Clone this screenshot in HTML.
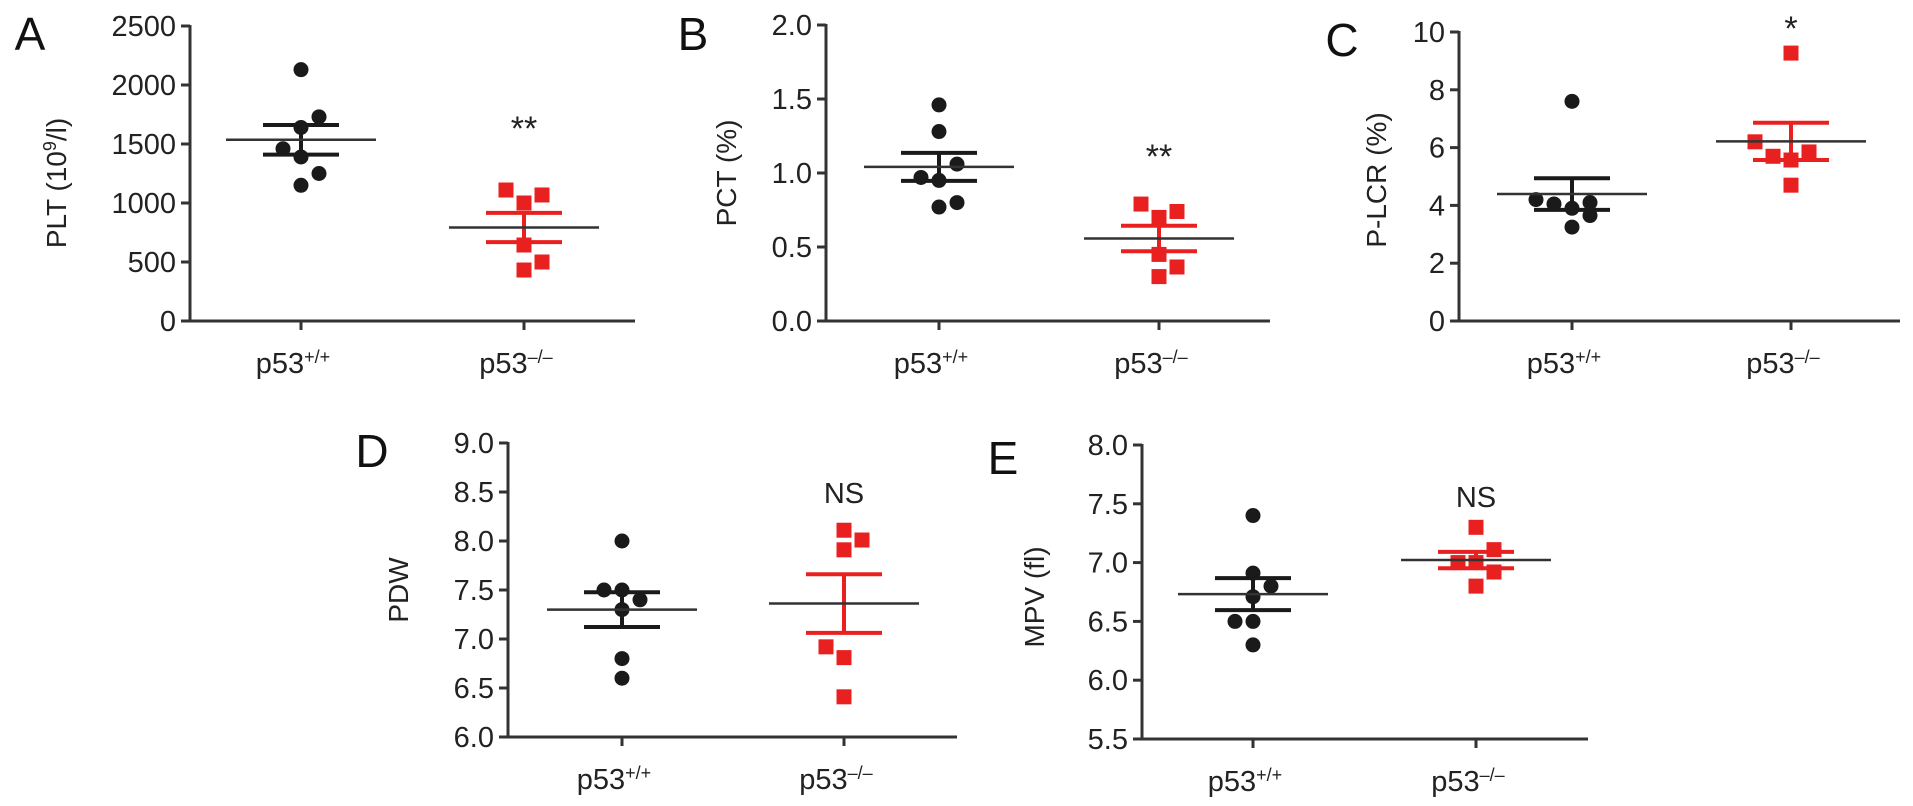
<!DOCTYPE html>
<html><head><meta charset="utf-8">
<style>
html,body{margin:0;padding:0;background:#fff;}
svg{display:block;font-family:"Liberation Sans",Arial,sans-serif;}
</style></head>
<body>
<svg id="fig" width="1913" height="806" viewBox="0 0 1913 806" xmlns="http://www.w3.org/2000/svg"></svg>
<script>
// ---- data ----
const groups = ["p53+/+", "p53-/-"];
const pltWT = [2130, 1730, 1640, 1460, 1390, 1250, 1150];
const pltKO = [1110, 1068, 1000, 644, 500, 432];
const pctWT = [1.46, 1.28, 1.06, 0.97, 0.95, 0.80, 0.77];
const pctKO = [0.79, 0.74, 0.70, 0.45, 0.365, 0.30];
const plcrWT = [7.6, 4.2, 4.05, 4.1, 3.9, 3.65, 3.25];
const plcrKO = [9.27, 6.2, 5.7, 5.57, 5.85, 4.7];
const pdwWT = [8.0, 7.5, 7.5, 7.4, 7.3, 6.8, 6.6];
const pdwKO = [8.11, 8.01, 7.91, 6.92, 6.81, 6.41];
const mpvWT = [7.40, 6.91, 6.80, 6.71, 6.50, 6.50, 6.30];
const mpvKO = [7.30, 7.11, 7.0, 7.0, 6.92, 6.80];
const ticksA = [0, 500, 1000, 1500, 2000, 2500];
const ticksB = ["0.0", "0.5", "1.0", "1.5", "2.0"];
const ticksC = [0, 2, 4, 6, 8, 10];
const ticksD = ["6.0", "6.5", "7.0", "7.5", "8.0", "8.5", "9.0"];
const ticksE = ["5.5", "6.0", "6.5", "7.0", "7.5", "8.0"];
const sigA = "**", sigB = "**", sigC = "*", sigD = "NS", sigE = "NS";

const NS = "http://www.w3.org/2000/svg";
const svg = document.getElementById("fig");
function mk(tag, attrs, parent) {
  const e = document.createElementNS(NS, tag);
  for (const k in attrs) e.setAttribute(k, attrs[k]);
  (parent || svg).appendChild(e);
  return e;
}
function mean(a){return a.reduce((s,v)=>s+v,0)/a.length;}
function sem(a){const m=mean(a);const v=a.reduce((s,x)=>s+(x-m)*(x-m),0)/(a.length-1);return Math.sqrt(v/a.length);}

function panel(cfg) {
  const g = mk("g", {});
  
  
  const ymin = cfg.ticks[0] * 1, ymax = cfg.ticks[cfg.ticks.length - 1] * 1;
  const y = v => cfg.y0 - (v - ymin) / (ymax - ymin) * (cfg.y0 - cfg.y1);
  const ya = mk("line", {x1: cfg.ax, y1: cfg.y1 - 1, x2: cfg.ax, y2: cfg.y0 + 1, stroke: "#333", "stroke-width": 3}, g);
  
  
  const xa = mk("line", {x1: cfg.ax - 1, y1: cfg.y0, x2: cfg.xend, y2: cfg.y0, stroke: "#333", "stroke-width": 3}, g);
  
  
  cfg.ticks.forEach(t => {
    const ty = y(t * 1);
    const tl = mk("line", {x1: cfg.ax - 9, y1: ty, x2: cfg.ax, y2: ty, stroke: "#333", "stroke-width": 3}, g);
    
    
    const tx = mk("text", {x: cfg.ax - 14, y: ty + 10, "text-anchor": "end", "font-size": 29, fill: "#222"}, g);
    tx.textContent = t;
    
    
  });
  [cfg.cx0, cfg.cx1].forEach((cx, i) => {
    const tl = mk("line", {x1: cx, y1: cfg.y0, x2: cx, y2: cfg.y0 + 9, stroke: "#333", "stroke-width": 3}, g);
    
    
    const tx = mk("text", {x: cx - 8, y: cfg.y0 + 52, "text-anchor": "middle", "font-size": 29, fill: "#222"}, g);
    
    
    const a = mk("tspan", {}, tx); a.textContent = "p53";
    const b = mk("tspan", {"font-size": 18, dy: -10}, tx); b.textContent = i === 0 ? "+/+" : "\u2013/\u2013";
  });
  const tt = mk("text", {x: 0, y: 0, "text-anchor": "middle", "font-size": 28, fill: "#222",
    transform: `translate(${cfg.tx},${cfg.ty}) rotate(-90)`}, g);
  
  
  cfg.title.forEach(p => { const s = mk("tspan", p.sup ? {"font-size": 18, dy: -10} : (p.down ? {dy: 10} : {}), tt); s.textContent = p.t; });
  const pl = mk("text", {x: cfg.lx, y: cfg.ly, "text-anchor": "middle", "font-size": 46, fill: "#111"}, g);
  pl.textContent = cfg.id;
  
  
  const series = [{d: cfg.wt, j: cfg.jw, cx: cfg.cx0, col: "#1a1a1a", sq: false},
                  {d: cfg.ko, j: cfg.jk, cx: cfg.cx1, col: "#e8201f", sq: true}];
  series.forEach((s, si) => {
    s.d.forEach((v, k) => {
      const px = s.cx + (s.j[k] || 0), py = y(v);
      let m;
      if (s.sq) m = mk("rect", {x: px - 7.5, y: py - 7.5, width: 15, height: 15, fill: s.col}, g);
      else m = mk("circle", {cx: px, cy: py, r: 7.5, fill: s.col}, g);
      
      
    });
    const m = mean(s.d), e = sem(s.d);
    const ew = mk("line", {x1: s.cx, y1: y(m + e), x2: s.cx, y2: y(m - e), stroke: s.col, "stroke-width": 4}, g);
    
    
    [m + e, m - e].forEach(v => {
      const c = mk("line", {x1: s.cx - 38, y1: y(v), x2: s.cx + 38, y2: y(v), stroke: s.col, "stroke-width": 4}, g);
      
      
    });
    const ml = mk("line", {x1: s.cx - 75, y1: y(m), x2: s.cx + 75, y2: y(m), stroke: "#333", "stroke-width": 2.5}, g);
    
    
  });
  const sg = mk("text", {x: cfg.cx1, y: cfg.sy, "text-anchor": "middle", "font-size": cfg.sig === "NS" ? 29 : 34, fill: "#222"}, g);
  sg.textContent = cfg.sig;
  
  
}

panel({id: "A", ticks: ticksA, wt: pltWT, ko: pltKO, jw: [0,18,0,-18,0,18,0], jk: [-18,18,0,0,18,0],
  ax: 190, y0: 321, y1: 26, xend: 635, cx0: 301, cx1: 524, tx: 66, ty: 183,
  title: [{t: "PLT (10"}, {t: "9", sup: true}, {t: "/l)", down: true}], lx: 30, ly: 50, sig: sigA, sy: 140});
panel({id: "B", ticks: ticksB, wt: pctWT, ko: pctKO, jw: [0,0,18,-18,0,18,0], jk: [-18,18,0,0,18,0],
  ax: 826, y0: 321, y1: 25, xend: 1270, cx0: 939, cx1: 1159, tx: 736, ty: 173,
  title: [{t: "PCT (%)"}], lx: 693, ly: 50, sig: sigB, sy: 168});
panel({id: "C", ticks: ticksC, wt: plcrWT, ko: plcrKO, jw: [0,-36,-18,18,0,18,0], jk: [0,-36,-18,0,18,0],
  ax: 1459, y0: 321, y1: 32, xend: 1900, cx0: 1572, cx1: 1791, tx: 1386, ty: 180,
  title: [{t: "P-LCR (%)"}], lx: 1342, ly: 56, sig: sigC, sy: 40});
panel({id: "D", ticks: ticksD, wt: pdwWT, ko: pdwKO, jw: [0,-18,0,18,0,0,0], jk: [0,18,0,-18,0,0],
  ax: 508, y0: 737, y1: 443, xend: 957, cx0: 622, cx1: 844, tx: 408, ty: 590,
  title: [{t: "PDW"}], lx: 372, ly: 467, sig: sigD, sy: 503});
panel({id: "E", ticks: ticksE, wt: mpvWT, ko: mpvKO, jw: [0,0,18,0,-18,0,0], jk: [0,18,-18,0,18,0],
  ax: 1142, y0: 739, y1: 445, xend: 1588, cx0: 1253, cx1: 1476, tx: 1044, ty: 597,
  title: [{t: "MPV (fl)"}], lx: 1003, ly: 474, sig: sigE, sy: 507});
</script>
</body></html>
